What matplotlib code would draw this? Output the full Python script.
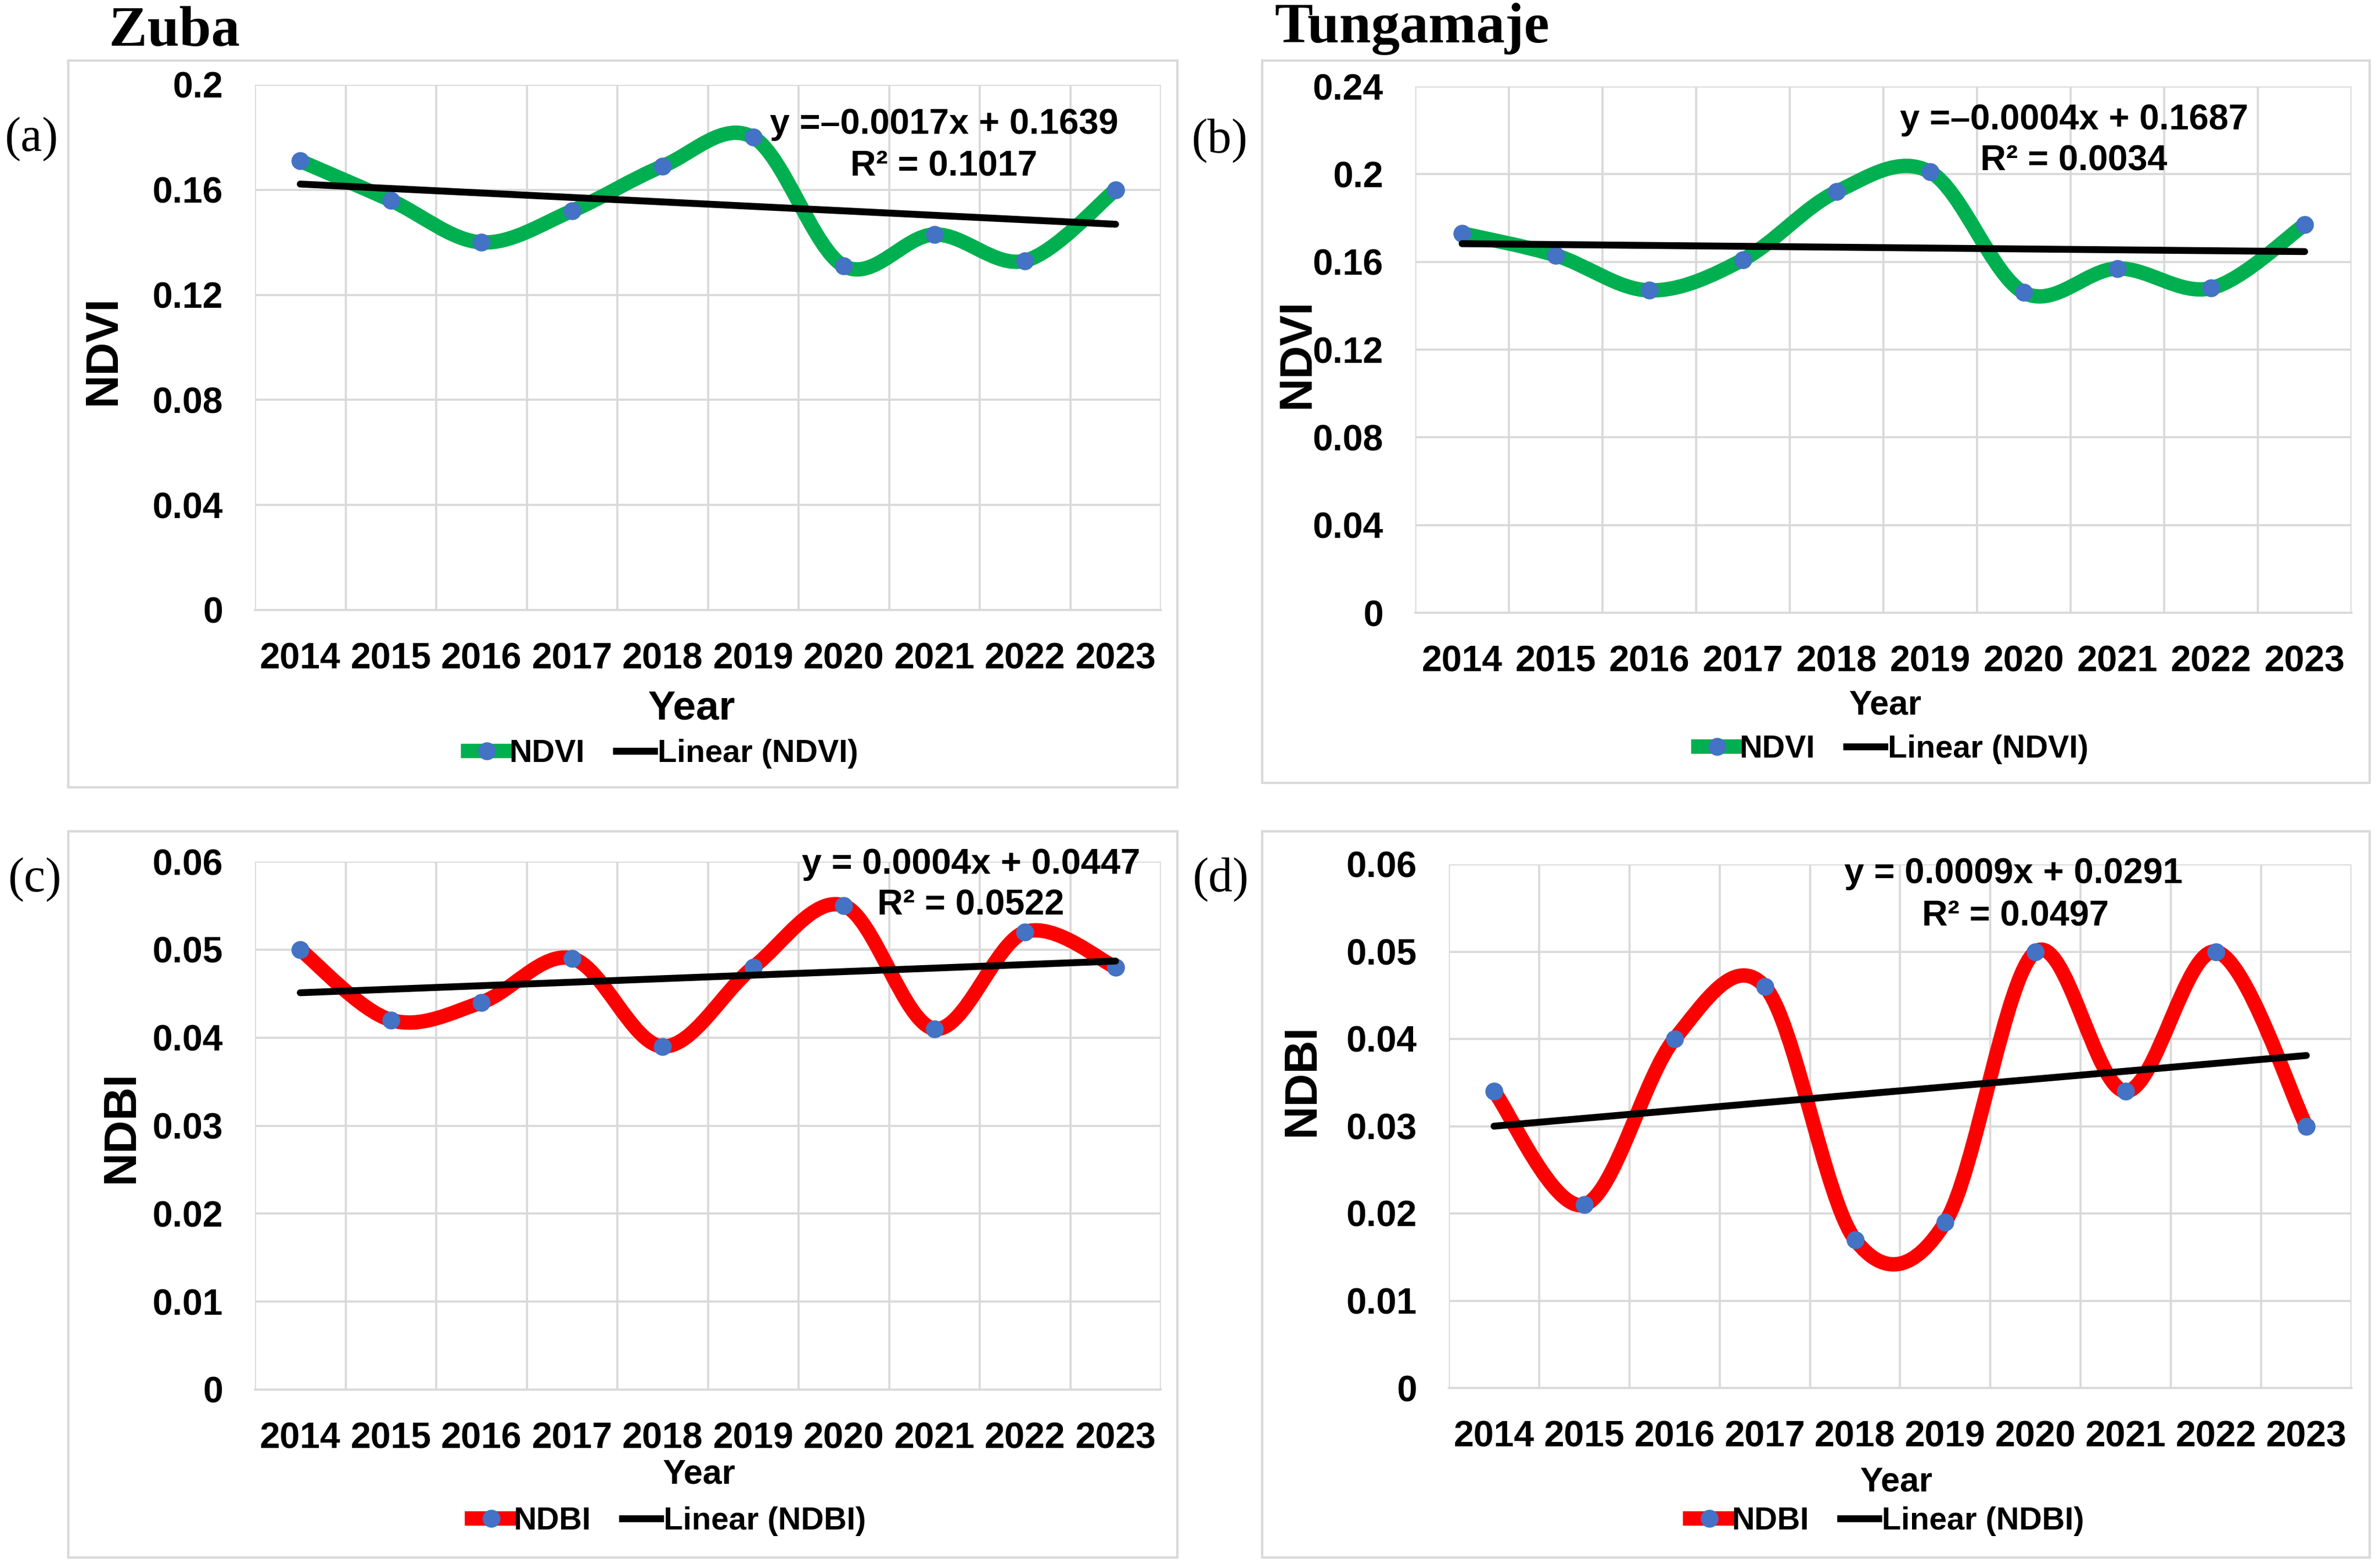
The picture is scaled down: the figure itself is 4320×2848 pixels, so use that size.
import numpy as np
import matplotlib
matplotlib.use("Agg")
import matplotlib.pyplot as plt
from matplotlib.path import Path
from matplotlib.patches import PathPatch, Rectangle
from matplotlib.lines import Line2D

# ---- data ----
years = ["2014", "2015", "2016", "2017", "2018", "2019", "2020", "2021", "2022", "2023"]

ndvi_zuba = [0.171, 0.156, 0.140, 0.152, 0.169, 0.180, 0.131, 0.143, 0.133, 0.160]
ndvi_tung = [0.173, 0.163, 0.147, 0.161, 0.192, 0.201, 0.146, 0.157, 0.148, 0.177]
ndbi_zuba = [0.050, 0.042, 0.044, 0.049, 0.039, 0.048, 0.055, 0.041, 0.052, 0.048]
ndbi_tung = [0.034, 0.021, 0.040, 0.046, 0.017, 0.019, 0.050, 0.034, 0.050, 0.030]

# trend line coefficients (as printed on the chart)
slopes = [-0.0017, -0.0004, 0.0004, 0.0009]
intercepts = [0.1639, 0.1687, 0.0447, 0.0291]
r2_values = [0.1017, 0.0034, 0.0522, 0.0497]
eq_texts = ["y =\u20130.0017x + 0.1639", "y =\u20130.0004x + 0.1687",
            "y = 0.0004x + 0.0447", "y = 0.0009x + 0.0291"]

index_names = ["NDVI", "NDVI", "NDBI", "NDBI"]
y_max = [0.2, 0.24, 0.06, 0.06]
y_step = [0.04, 0.04, 0.01, 0.01]
panel_tags = ["(a)", "(b)", "(c)", "(d)"]
site_names = ["Zuba", "Tungamaje"]

GREEN = "#00B050"
RED = "#FF0000"
BLUE = "#4472C4"
GRID = "#D9D9D9"

W, H = 4320, 2848
DPI = 300
plt.rcParams['font.family'] = ['Liberation Sans', 'DejaVu Sans']
plt.rcParams['font.weight'] = 'bold'

fig = plt.figure(figsize=(W / DPI, H / DPI), dpi=DPI)
fig.patch.set_facecolor("white")


def fx(px):
    return px / W


def fy(py):
    return 1 - py / H


def smooth_path(xs, ys):
    # excel-like smoothed line: catmull-rom segments as cubic beziers
    pts = np.column_stack([xs, ys]).astype(float)
    ext = np.vstack([pts[0], pts, pts[-1]])
    verts = [tuple(pts[0])]
    codes = [Path.MOVETO]
    for i in range(len(pts) - 1):
        p0, p1, p2, p3 = ext[i], ext[i + 1], ext[i + 2], ext[i + 3]
        c1 = p1 + (p2 - p0) / 6
        c2 = p2 - (p3 - p1) / 6
        verts += [tuple(c1), tuple(c2), tuple(p2)]
        codes += [Path.CURVE4] * 3
    return Path(verts, codes)


# pixel layout per panel: chart box, plot area, text anchors
layout = [
    dict(box=(124, 110, 2138, 1430), plot=(463, 154, 2108, 1108), tag=(8, 253),
         eq=(1714, 226), r2=(1714, 303), year=(1256, 1287), year_fs=18,
         leg=(1204, 1369), ylab=(187, 636), color=GREEN),
    dict(box=(2292, 110, 4303, 1422), plot=(2570, 157, 4270, 1113), tag=(2163, 256),
         eq=(3766, 218), r2=(3766, 292), year=(3424, 1281), year_fs=15,
         leg=(3438, 1361), ylab=(2355, 642), color=GREEN),
    dict(box=(124, 1510, 2138, 2829), plot=(463, 1565, 2108, 2524), tag=(14, 1598),
         eq=(1763, 1570), r2=(1763, 1645), year=(1270, 2678), year_fs=15,
         leg=(1215, 2763), ylab=(220, 2047), color=RED),
    dict(box=(2292, 1510, 4303, 2829), plot=(2631, 1570, 4270, 2521), tag=(2165, 1598),
         eq=(3656, 1587), r2=(3660, 1664), year=(3444, 2692), year_fs=15,
         leg=(3427, 2763), ylab=(2364, 1962), color=RED),
]
series = [ndvi_zuba, ndvi_tung, ndbi_zuba, ndbi_tung]

x = np.arange(1, len(years) + 1)
LW = 6.3
MS = 6.8
TLW = 3.0

for k, lay in enumerate(layout):
    bx0, by0, bx1, by1 = lay["box"]
    fig.patches.append(Rectangle((fx(bx0), fy(by1)), fx(bx1 - bx0), (by1 - by0) / H,
                                 transform=fig.transFigure, fill=False,
                                 edgecolor=GRID, linewidth=1.0, zorder=0))
    px0, py0, px1, py1 = lay["plot"]
    ax = fig.add_axes([fx(px0), fy(py1), fx(px1 - px0), (py1 - py0) / H])

    vals = series[k]
    color = lay["color"]
    ax.add_patch(PathPatch(smooth_path(x, vals), fill=False, edgecolor=color,
                           linewidth=LW, capstyle='round', joinstyle='round', zorder=3))
    ax.plot(x, vals, linestyle='none', marker='o', markersize=MS,
            markerfacecolor=BLUE, markeredgecolor=BLUE, zorder=4)
    trend = slopes[k] * x + intercepts[k]
    ax.plot([x[0], x[-1]], [trend[0], trend[-1]], color="black", linewidth=TLW,
            solid_capstyle='round', zorder=5)

    ax.set_xlim(0.5, len(years) + 0.5)
    ax.set_ylim(0, y_max[k])
    yt = np.round(np.arange(0, y_max[k] + y_step[k] / 2, y_step[k]), 3)
    ax.set_yticks(yt)
    ax.set_yticklabels(["0"] + [f"{v:g}" for v in yt[1:]])
    ax.set_xticks(x)
    ax.set_xticklabels(years)
    ax.set_xticks(np.arange(0.5, len(years) + 1), minor=True)
    ax.tick_params(axis='both', which='both', length=0, labelsize=15.8)
    ax.tick_params(axis='y', pad=14)
    ax.tick_params(axis='x', pad=14)
    for lbl in ax.get_xticklabels() + ax.get_yticklabels():
        lbl.set_fontweight('bold')
    ax.grid(True, axis='y', which='major', color=GRID, linewidth=0.9)
    ax.grid(True, axis='x', which='minor', color=GRID, linewidth=0.9)
    ax.set_axisbelow(True)
    for side in ["top", "right", "left"]:
        ax.spines[side].set_visible(False)
    ax.spines["bottom"].set_color(GRID)
    ax.spines["bottom"].set_linewidth(0.9)

    fig.text(fx(lay["eq"][0]), fy(lay["eq"][1]), eq_texts[k], ha='center', va='center',
             fontsize=15.5, fontweight='bold')
    fig.text(fx(lay["r2"][0]), fy(lay["r2"][1]), f"R\u00b2 = {r2_values[k]:.4f}",
             ha='center', va='center', fontsize=15.5, fontweight='bold')
    fig.text(fx(lay["year"][0]), fy(lay["year"][1]), "Year", ha='center', va='center',
             fontsize=lay["year_fs"], fontweight='bold')
    fig.text(fx(lay["ylab"][0]), fy(lay["ylab"][1]), index_names[k], ha='center',
             va='center', rotation=90, fontsize=20, fontweight='heavy')
    fig.text(fx(lay["tag"][0]), fy(lay["tag"][1]), panel_tags[k], ha='left', va='center',
             fontsize=21, family='Liberation Serif', fontweight='normal')

    handles = [
        Line2D([], [], color=color, linewidth=LW, marker='o', markersize=MS,
               markerfacecolor=BLUE, markeredgecolor=BLUE),
        Line2D([], [], color="black", linewidth=TLW),
    ]
    leg = ax.legend(handles, [index_names[k], f"Linear ({index_names[k]})"], ncol=2,
                    loc='center', bbox_to_anchor=(fx(lay["leg"][0]), fy(lay["leg"][1])),
                    bbox_transform=fig.transFigure, frameon=False,
                    prop=dict(size=13.8, weight='bold'), handlelength=1.2,
                    handletextpad=0.1, columnspacing=1.0)
    for t in leg.get_texts():
        t.set_fontweight('bold')

fig.text(fx(198), fy(58), site_names[0], ha='left', va='center', fontsize=25,
         family='Liberation Serif', fontweight='bold')
fig.text(fx(2314), fy(52), site_names[1], ha='left', va='center', fontsize=25,
         family='Liberation Serif', fontweight='bold')

fig.savefig("out.png", dpi=DPI, facecolor="white")
